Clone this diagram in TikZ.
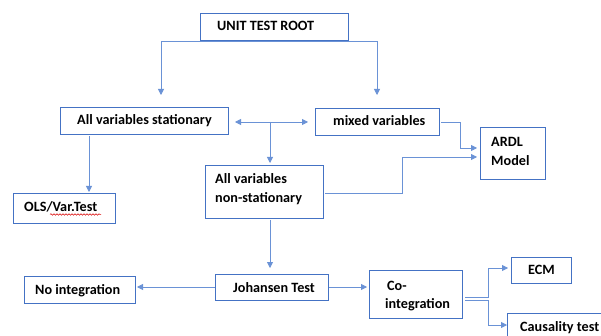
\documentclass[tikz,border=0pt]{standalone}
\usepackage{fontspec}
\setmainfont{Carlito}
\usetikzlibrary{arrows.meta,decorations.pathmorphing}
\definecolor{boxblue}{HTML}{4472C4}
\definecolor{lineblue}{HTML}{6A92D6}
\begin{document}
\begin{tikzpicture}[x=1pt,y=-1pt,
  box/.style={draw=boxblue,line width=1.2pt,fill=white,anchor=north west,inner sep=0pt},
  txt/.style={anchor=base west,inner sep=0pt,font=\fontsize{14.2}{18}\selectfont\bfseries},
  conn/.style={draw=lineblue,line width=0.8pt,-{Triangle[length=6pt,width=6pt]}},
  biconn/.style={draw=lineblue,line width=0.8pt,{Triangle[length=6pt,width=6pt]}-{Triangle[length=6pt,width=6pt]}}]
\useasboundingbox (0,0) rectangle (601,336);
\fill[white] (0,0) rectangle (601,336);

% boxes
\node[box,minimum width=148pt,minimum height=27pt] (root) at (200,13) {};
\node[box,minimum width=168pt,minimum height=27pt] (stat) at (60,107) {};
\node[box,minimum width=124pt,minimum height=27pt] (mixed) at (315,108) {};
\node[box,minimum width=65pt,minimum height=52pt] (ardl) at (480,127) {};
\node[box,minimum width=102pt,minimum height=30pt] (ols) at (13,193) {};
\node[box,minimum width=118pt,minimum height=53pt] (nonst) at (205,165) {};
\node[box,minimum width=113pt,minimum height=26pt] (joh) at (215,274) {};
\node[box,minimum width=111pt,minimum height=27pt] (noint) at (24,276) {};
\node[box,minimum width=93pt,minimum height=48pt] (coint) at (369,270) {};
\node[box,minimum width=60pt,minimum height=26pt] (ecm) at (511,257) {};
\node[box,minimum width=110pt,minimum height=32pt] (caus) at (507,313) {};

% texts
\node[txt] (rootT) at (217,31) {UNIT TEST ROOT};
\node[txt] (statT) at (77,125) {All variables stationary};
\node[txt] (mixedT) at (333,126) {mixed variables};
\node[txt] (ardlT1) at (491,147) {ARDL};
\node[txt] (ardlT2) at (491,165.5) {Model};
\node[txt] (olsT) at (24,212) {OLS/Var.Test};
\node[txt] (nonstT1) at (215,184) {All variables};
\node[txt] (nonstT2) at (215,202.5) {non-stationary};
\node[txt] (johT) at (233,292) {Johansen Test};
\node[txt] (nointT) at (35,294.5) {No integration};
\node[txt] (cointT1) at (387,290.5) {Co-};
\node[txt] (cointT2) at (385,308.5) {integration};
\node[txt] (ecmT) at (528,274) {ECM};
\node[txt] (causT) at (520,331) {Causality test};

% spell-check squiggle
\coordinate (sq1) at (50,214.5);
\coordinate (sq2) at (101,214.5);
\draw[red!85!black,line width=0.5pt,decorate,decoration={snake,amplitude=0.8pt,segment length=3pt}] (sq1) -- (sq2);

% connector end points
\coordinate (a1) at (161,95);
\coordinate (a2) at (377,95);
\coordinate (b1) at (235,122);
\coordinate (b2) at (308,122);
\coordinate (b3) at (270,122);
\coordinate (b4) at (270,163);
\coordinate (c1) at (89,136);
\coordinate (c2) at (89,192);
\coordinate (m1) at (441,122);
\coordinate (m2) at (477,148);
\coordinate (n1) at (325,193);
\coordinate (n2) at (477,157);
\coordinate (n3) at (270,220);
\coordinate (n4) at (270,268);
\coordinate (j1) at (137,287);
\coordinate (j2) at (367,287);
\coordinate (e1) at (465,297);
\coordinate (e2) at (508,268);
\coordinate (e3) at (465,300);
\coordinate (e4) at (507,325);

% connectors
\draw[conn] (root.south) -| (a1);
\draw[conn] (root.south) -| (a2);
\draw[biconn] (b1) -- (b2);
\draw[conn] (b3) -- (b4);
\draw[conn] (c1) -- (c2);
\draw[conn] (m1) -- (460,122) |- (m2);
\draw[conn] (n1) -- (402,193) |- (n2);
\draw[conn] (n3) -- (n4);
\draw[conn] (joh.west |- j1) -- (j1);
\draw[conn] (joh.east |- j2) -- (j2);
\draw[conn] (e1) -- (488,297) |- (e2);
\draw[conn] (e3) -- (488,300) |- (e4);
\end{tikzpicture}
\end{document}
